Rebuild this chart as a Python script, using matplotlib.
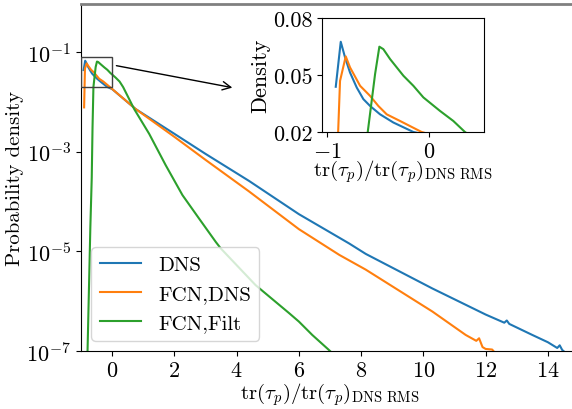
import matplotlib
matplotlib.use("Agg")
import matplotlib.pyplot as plt
from matplotlib.patches import Rectangle
from matplotlib.ticker import FixedLocator, LogFormatterMathtext, NullLocator

plt.rcParams['font.family'] = 'serif'
plt.rcParams['font.serif'] = ['cmr10']
plt.rcParams['mathtext.fontset'] = 'cm'
plt.rcParams['axes.formatter.use_mathtext'] = True
plt.rcParams['axes.unicode_minus'] = True

# data
dns_x = [-0.915, -0.866, -0.824, -0.775, -0.709, -0.644, -0.578, -0.48, -0.35, -0.153,
         0.0, 0.76, 2.0, 3.0, 4.4, 6.0, 7.61, 8.15, 10.29, 12.0, 12.6, 12.68, 12.76,
         13.5, 14.0, 14.3, 14.38, 14.46, 14.5]
dns_y = [0.0438, 0.0675, 0.0593, 0.0513, 0.0434, 0.0373, 0.0337, 0.0293, 0.025, 0.020,
         0.0182, 7.2e-3, 2.3e-3, 9.1e-4, 2.6e-4, 5.6e-5, 1.45e-5, 8.9e-6, 1.8e-6,
         5.4e-7, 3.7e-7, 4.1e-7, 3.5e-7, 2.1e-7, 1.5e-7, 1.15e-7, 1.3e-7, 1.05e-7, 1.0e-7]

fcn_dns_x = [-0.90, -0.873, -0.817, -0.775, -0.676, -0.578, -0.497, -0.415, -0.284, -0.072,
             0.76, 2.0, 3.0, 4.4, 6.0, 7.3, 8.15, 10.29, 11.36, 11.7, 11.79, 11.9, 12.0,
             12.21, 12.25]
fcn_dns_y = [0.0078, 0.0469, 0.0598, 0.054, 0.0443, 0.039, 0.0337, 0.0293, 0.0258, 0.020,
             7.2e-3, 2.0e-3, 6.9e-4, 1.6e-4, 2.8e-5, 8.5e-6, 4.3e-6, 6.2e-7, 2.1e-7,
             1.6e-7, 1.8e-7, 1.2e-7, 1.1e-7, 1.07e-7, 1.0e-7]

fcn_filt_x = [-0.79, -0.70, -0.655, -0.63, -0.601, -0.529, -0.487, -0.448, -0.382, -0.251,
              -0.153, -0.055, 0.108, 0.239, 0.353, 0.71, 1.19, 1.72, 2.26, 2.79, 3.33,
              3.49, 4.61, 5.68, 6.0, 6.43, 6.95, 7.0]
fcn_filt_y = [1e-7, 3e-5, 3e-4, 3e-3, 0.020, 0.0505, 0.0649, 0.0636, 0.0584, 0.0496,
              0.0443, 0.0382, 0.0311, 0.0258, 0.020, 7.2e-3, 2.3e-3, 5.4e-4, 1.35e-4,
              4.6e-5, 1.55e-5, 1.15e-5, 2.1e-6, 5.8e-7, 3.9e-7, 2.1e-7, 1.07e-7, 1.0e-7]

labels = ['DNS', 'FCN,DNS', 'FCN,Filt']
xlab = r'$\mathrm{tr}(\tau_p)/\mathrm{tr}(\tau_p)_{\mathrm{DNS\ RMS}}$'

fig = plt.figure(figsize=(5.72, 4.10), dpi=100)
ax = fig.add_axes([81/572, 58/410, 498/572, 347/410])

series = [(dns_x, dns_y), (fcn_dns_x, fcn_dns_y), (fcn_filt_x, fcn_filt_y)]
for (xs, ys), lab in zip(series, labels):
    ax.plot(xs, ys, lw=1.5, label=lab)

ax.set_yscale('log')
ax.set_xlim(-1.0, 15.0)
ax.set_ylim(1e-7, 0.93)
ax.yaxis.set_major_locator(FixedLocator([1e-7, 1e-5, 1e-3, 1e-1]))
ax.yaxis.set_major_formatter(LogFormatterMathtext())
ax.yaxis.set_minor_locator(NullLocator())
ax.set_xticks([0, 2, 4, 6, 8, 10, 12, 14])
ax.tick_params(labelsize=16)
ax.spines['right'].set_visible(False)
ax.spines['top'].set_color('0.5')
ax.spines['top'].set_linewidth(2)
ax.set_xlabel(xlab, fontsize=15, labelpad=0)
ax.set_ylabel('Probability density', fontsize=15, labelpad=2)
ax.legend(loc='lower left', fontsize=15, bbox_to_anchor=(0.0, 0.0))

# zoomed region marker and arrow
ax.add_patch(Rectangle((-1.0, 0.02), 1.0, 0.06, fill=False, ec='0.25', lw=1.0, zorder=5))
ax.annotate('', xy=(3.95, 0.019), xytext=(0.05, 0.055),
            arrowprops=dict(arrowstyle='->', color='k', lw=1.0, mutation_scale=15))

# inset
ins = fig.add_axes([322/572, 1 - 133/410, 162/572, 114/410])
for (xs, ys), lab in zip(series, labels):
    ins.plot(xs, ys, lw=1.5)
ins.set_xlim(-1.05, 0.54)
ins.set_ylim(0.02, 0.08)
ins.set_xticks([-1, 0])
ins.set_yticks([0.02, 0.05, 0.08])
ins.set_yticklabels(['0.02', '0.05', '0.08'])
ins.tick_params(labelsize=16)
ins.set_xlabel(xlab, fontsize=15, labelpad=-3)
ins.set_ylabel('Density', fontsize=16, labelpad=2)

fig.savefig('out.png', dpi=100)
